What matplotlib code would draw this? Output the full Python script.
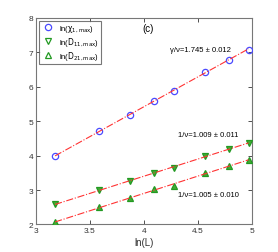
import numpy as np
import matplotlib
matplotlib.use("Agg")
import matplotlib.pyplot as plt

lnL = [3.178, 3.584, 3.871, 4.094, 4.277, 4.564, 4.787, 4.970]
chi1 = [3.98, 4.71, 5.18, 5.60, 5.89, 6.44, 6.78, 7.08]
D11 = [2.58, 3.00, 3.26, 3.50, 3.64, 4.00, 4.19, 4.36]
D21 = [2.06, 2.50, 2.76, 3.03, 3.13, 3.50, 3.69, 3.87]
labels = [r'ln($\mathrm{\chi_{1,max}}$)', r'ln($\mathrm{D_{11,max}}$)', r'ln($\mathrm{D_{21,max}}$)']
fit_texts = ['γ/ν=1.745 ± 0.012', '1/ν=1.009 ± 0.011', '1/ν=1.005 ± 0.010']

plt.rcParams['mathtext.fontset'] = 'dejavusans'
plt.rcParams['font.family'] = ['Liberation Sans', 'DejaVu Sans']
fig = plt.figure(figsize=(2.78, 2.53), dpi=100)
ax = fig.add_axes([0.129, 0.109, 0.777, 0.816])

x = np.array(lnL)
series = [(chi1, 'o', 'none', '#4a4aff', 4.5), (D11, 'v', '#44aa33', '#229922', 4.2),
          (D21, '^', '#44aa33', '#229922', 4.2)]
for (ys, m, fc, ec, ms), lab in zip(series, labels):
    ax.plot(x, ys, m, mfc=fc, mec=ec, ms=ms, mew=0.9, label=lab, zorder=3)
    p = np.polyfit(x, ys, 1)
    ax.plot(x, np.polyval(p, x), '-.', color='#ff3333', lw=0.8, zorder=4)

ax.set_xlim(3, 5)
ax.set_ylim(2, 8)
ax.set_xticks([3, 3.5, 4, 4.5, 5])
ax.set_xticklabels(['3', '3.5', '4', '4.5', '5'])
ax.set_yticks(range(2, 9))
ax.tick_params(direction='in', length=3, width=0.6, labelsize=6, colors='#333333',
               top=True, right=True, pad=2)
for s in ax.spines.values():
    s.set_color('#777777')
    s.set_linewidth(0.8)
ax.set_xlabel('ln(L)', fontsize=7, color='#333333', labelpad=2)

ax.text(0.52, 0.975, '(c)', transform=ax.transAxes, fontsize=7, ha='center', va='top')
ax.text(0.764, 0.847, fit_texts[0], transform=ax.transAxes, fontsize=5.5, ha='center', va='center')
ax.text(0.80, 0.434, fit_texts[1], transform=ax.transAxes, fontsize=5.5, ha='center', va='center')
ax.text(0.80, 0.143, fit_texts[2], transform=ax.transAxes, fontsize=5.5, ha='center', va='center')

leg = ax.legend(loc='upper left', fontsize=5.5, frameon=True, fancybox=False,
                bbox_to_anchor=(0.015, 0.985),
                borderaxespad=0.0, handletextpad=0.7, labelspacing=0.15,
                borderpad=0.3, handlelength=1.6)
leg.get_frame().set_edgecolor('#555555')
leg.get_frame().set_linewidth(0.8)
for h in leg.legend_handles:
    h.set_markerfacecolor('none')

fig.savefig('out.png', dpi=100)
